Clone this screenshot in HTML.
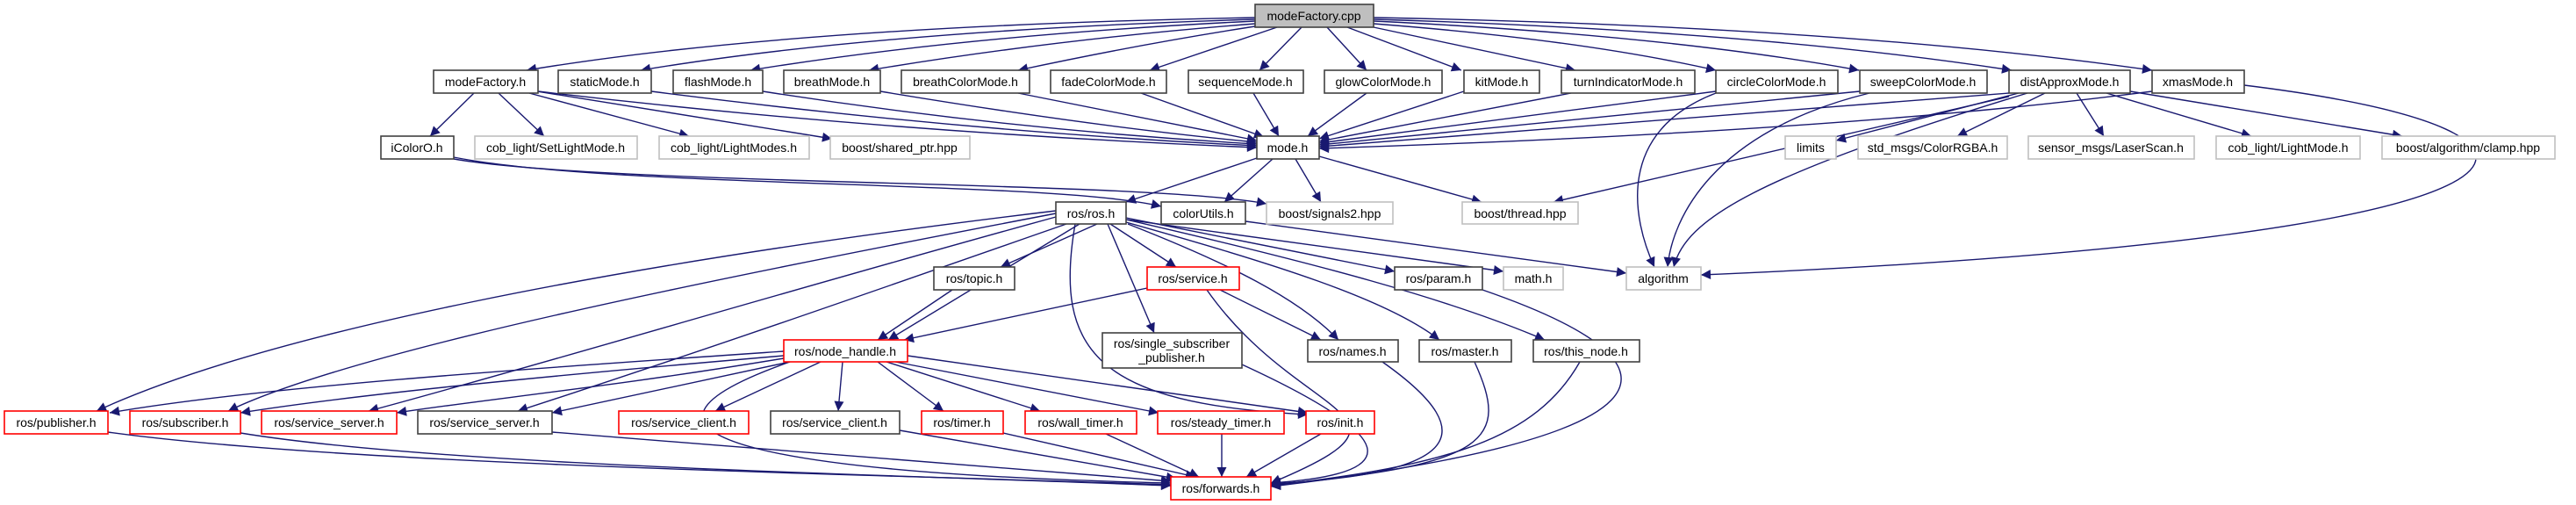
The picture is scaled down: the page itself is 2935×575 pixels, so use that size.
<!DOCTYPE html>
<html><head><meta charset="utf-8"><style>
html,body{margin:0;padding:0;background:#fff;width:2935px;height:575px;overflow:hidden}
text{font-family:"Liberation Sans",sans-serif;font-size:14px;text-anchor:middle;fill:#000}
.e{fill:none;stroke:#191970;stroke-width:1.4;marker-end:url(#a)}
.b{fill:#fff;stroke:#404040;stroke-width:1.6}
.g{fill:#fff;stroke:#bfbfbf;stroke-width:1.6}
.r{fill:#fff;stroke:#ff0000;stroke-width:1.6}
</style></head><body>
<svg width="2935" height="575" viewBox="0 0 2935 575" xmlns="http://www.w3.org/2000/svg">
<defs><marker id="a" viewBox="0 0 10 10" refX="10" refY="5" markerUnits="userSpaceOnUse" markerWidth="13" markerHeight="11" orient="auto"><path d="M0 0L10 5L0 10z" fill="#191970"/></marker></defs>
<!-- edges -->
<g>
<path class="e" d="M1430 20 Q900 30 600 80"/>
<path class="e" d="M1430 22 Q1000 35 730 80"/>
<path class="e" d="M1430 24 Q1100 40 855 80"/>
<path class="e" d="M1430 27 Q1200 45 990 80"/>
<path class="e" d="M1430 30 Q1300 50 1160 80"/>
<path class="e" d="M1455 31 L1310 80"/>
<path class="e" d="M1483 31 L1435 80"/>
<path class="e" d="M1512 31 L1557 80"/>
<path class="e" d="M1535 31 L1665 80"/>
<path class="e" d="M1565 31 L1795 80"/>
<path class="e" d="M1565 27 Q1800 45 1955 80"/>
<path class="e" d="M1565 24 Q1900 40 2118 80"/>
<path class="e" d="M1565 22 Q2000 35 2292 80"/>
<path class="e" d="M1565 20 Q2100 30 2452 80"/>
<path class="e" d="M613 104 Q1000 150 1432 168"/>
<path class="e" d="M742 104 Q1100 150 1432 166"/>
<path class="e" d="M869 104 Q1150 148 1432 164"/>
<path class="e" d="M1003 104 Q1250 145 1432 162"/>
<path class="e" d="M1160 106 L1432 160"/>
<path class="e" d="M1300 106 L1440 156"/>
<path class="e" d="M1428 106 L1457 155"/>
<path class="e" d="M1557 106 L1490 155"/>
<path class="e" d="M1668 104 L1503 158"/>
<path class="e" d="M1790 106 L1503 161"/>
<path class="e" d="M1955 104 L1503 163"/>
<path class="e" d="M2119 104 L1503 165"/>
<path class="e" d="M2289 106 L1503 167"/>
<path class="e" d="M2452 104 Q2100 150 1503 169"/>
<path class="e" d="M540 106 L490 155"/>
<path class="e" d="M568 106 L620 155"/>
<path class="e" d="M603 106 L785 155"/>
<path class="e" d="M612 104 L948 158"/>
<path class="e" d="M517 179 C700 215 1200 205 1323 235"/>
<path class="e" d="M517 181 C700 212 1300 205 1443 232"/>
<path class="e" d="M1432 180 L1283 230"/>
<path class="e" d="M1450 181 L1395 230"/>
<path class="e" d="M1476 181 L1505 230"/>
<path class="e" d="M1503 178 L1688 230"/>
<path class="e" d="M2289 110 L1770 230"/>
<path class="e" d="M1955 106 C1840 150 1860 250 1885 304"/>
<path class="e" d="M2130 106 C1950 150 1905 250 1900 304"/>
<path class="e" d="M2310 106 C2000 200 1920 250 1907 304"/>
<path class="e" d="M2300 106 L2092 160"/>
<path class="e" d="M2330 106 L2230 155"/>
<path class="e" d="M2366 106 L2397 155"/>
<path class="e" d="M2400 106 L2565 155"/>
<path class="e" d="M2427 104 L2737 155"/>
<path class="e" d="M2557 97 C2990 150 2960 270 1938 313"/>
<path class="e" d="M1419 252 L1853 311"/>
<path class="e" d="M1283 250 L1713 309"/>
<path class="e" d="M1283 248 L1589 309"/>
<path class="e" d="M1250 255 L1140 304"/>
<path class="e" d="M1265 255 L1340 304"/>
<path class="e" d="M1230 255 L1012 387"/>
<path class="e" d="M1085 330 L1000 387"/>
<path class="e" d="M1307 328 L1030 387"/>
<path class="e" d="M1262 255 L1315 379"/>
<path class="e" d="M1285 255 C1400 300 1480 340 1525 387"/>
<path class="e" d="M1390 330 L1505 387"/>
<path class="e" d="M1283 253 C1450 300 1580 340 1640 387"/>
<path class="e" d="M1283 250 C1500 300 1650 340 1760 387"/>
<path class="e" d="M1203 240 C700 300 300 380 110 468"/>
<path class="e" d="M1203 243 C800 320 400 400 260 468"/>
<path class="e" d="M1203 247 C900 330 600 420 420 468"/>
<path class="e" d="M1215 255 C1000 330 800 400 590 468"/>
<path class="e" d="M1225 255 C1200 400 1250 460 1490 472"/>
<path class="e" d="M1375 330 C1480 480 1640 470 1448 550"/>
<path class="e" d="M893 400 C600 420 300 440 125 470"/>
<path class="e" d="M893 405 C600 430 400 450 274 470"/>
<path class="e" d="M893 408 C700 440 550 455 452 470"/>
<path class="e" d="M900 412 L629 470"/>
<path class="e" d="M935 412 L815 468"/>
<path class="e" d="M960 412 L955 468"/>
<path class="e" d="M1000 412 L1075 468"/>
<path class="e" d="M1010 412 L1185 468"/>
<path class="e" d="M1020 412 L1320 470"/>
<path class="e" d="M1034 405 L1490 470"/>
<path class="e" d="M900 412 C650 500 900 540 1334 550"/>
<path class="e" d="M123 492 C400 530 1000 540 1334 552"/>
<path class="e" d="M274 493 C500 530 1000 540 1334 553"/>
<path class="e" d="M629 492 L1334 548"/>
<path class="e" d="M1025 490 L1340 545"/>
<path class="e" d="M1143 493 L1362 543"/>
<path class="e" d="M1260 494 L1366 543"/>
<path class="e" d="M1392 494 L1392 543"/>
<path class="e" d="M1505 494 L1420 543"/>
<path class="e" d="M1415 415 C1600 500 1600 540 1448 550"/>
<path class="e" d="M1575 412 C1700 500 1650 540 1448 551"/>
<path class="e" d="M1680 412 C1720 500 1700 530 1448 552"/>
<path class="e" d="M1800 412 C1750 500 1650 530 1448 553"/>
<path class="e" d="M1689 330 C1950 420 1900 500 1448 554"/>
</g>
<!-- nodes -->
<g>
<rect x="1430" y="5" width="135" height="26" fill="#bfbfbf" stroke="#404040" stroke-width="1.6"/><text x="1497" y="23">modeFactory.cpp</text>
<rect class="b" x="494" y="80" width="119" height="26"/><text x="553" y="98">modeFactory.h</text>
<rect class="b" x="636" y="80" width="106" height="26"/><text x="689" y="98">staticMode.h</text>
<rect class="b" x="767" y="80" width="102" height="26"/><text x="818" y="98">flashMode.h</text>
<rect class="b" x="893" y="80" width="110" height="26"/><text x="948" y="98">breathMode.h</text>
<rect class="b" x="1027" y="80" width="146" height="26"/><text x="1100" y="98">breathColorMode.h</text>
<rect class="b" x="1197" y="80" width="132" height="26"/><text x="1263" y="98">fadeColorMode.h</text>
<rect class="b" x="1354" y="80" width="131" height="26"/><text x="1419" y="98">sequenceMode.h</text>
<rect class="b" x="1509" y="80" width="134" height="26"/><text x="1576" y="98">glowColorMode.h</text>
<rect class="b" x="1668" y="80" width="86" height="26"/><text x="1711" y="98">kitMode.h</text>
<rect class="b" x="1779" y="80" width="152" height="26"/><text x="1855" y="98">turnIndicatorMode.h</text>
<rect class="b" x="1955" y="80" width="139" height="26"/><text x="2024" y="98">circleColorMode.h</text>
<rect class="b" x="2119" y="80" width="145" height="26"/><text x="2191" y="98">sweepColorMode.h</text>
<rect class="b" x="2289" y="80" width="138" height="26"/><text x="2358" y="98">distApproxMode.h</text>
<rect class="b" x="2452" y="80" width="105" height="26"/><text x="2504" y="98">xmasMode.h</text>

<rect class="b" x="434" y="155" width="83" height="26"/><text x="475" y="173">iColorO.h</text>
<rect class="g" x="541" y="155" width="185" height="26"/><text x="633" y="173">cob_light/SetLightMode.h</text>
<rect class="g" x="751" y="155" width="171" height="26"/><text x="836" y="173">cob_light/LightModes.h</text>
<rect class="g" x="946" y="155" width="159" height="26"/><text x="1025" y="173">boost/shared_ptr.hpp</text>
<rect class="b" x="1432" y="155" width="71" height="26"/><text x="1467" y="173">mode.h</text>
<rect class="g" x="2034" y="155" width="58" height="26"/><text x="2063" y="173">limits</text>
<rect class="g" x="2117" y="155" width="170" height="26"/><text x="2202" y="173">std_msgs/ColorRGBA.h</text>
<rect class="g" x="2311" y="155" width="189" height="26"/><text x="2405" y="173">sensor_msgs/LaserScan.h</text>
<rect class="g" x="2525" y="155" width="164" height="26"/><text x="2607" y="173">cob_light/LightMode.h</text>
<rect class="g" x="2714" y="155" width="197" height="26"/><text x="2812" y="173">boost/algorithm/clamp.hpp</text>

<rect class="b" x="1203" y="230" width="80" height="25"/><text x="1243" y="248">ros/ros.h</text>
<rect class="b" x="1323" y="230" width="96" height="25"/><text x="1371" y="248">colorUtils.h</text>
<rect class="g" x="1443" y="230" width="144" height="25"/><text x="1515" y="248">boost/signals2.hpp</text>
<rect class="g" x="1666" y="230" width="132" height="25"/><text x="1732" y="248">boost/thread.hpp</text>

<rect class="b" x="1064" y="304" width="92" height="26"/><text x="1110" y="322">ros/topic.h</text>
<rect class="r" x="1307" y="304" width="105" height="26"/><text x="1359" y="322">ros/service.h</text>
<rect class="b" x="1589" y="304" width="100" height="26"/><text x="1639" y="322">ros/param.h</text>
<rect class="g" x="1713" y="304" width="68" height="26"/><text x="1747" y="322">math.h</text>
<rect class="g" x="1853" y="304" width="85" height="26"/><text x="1895" y="322">algorithm</text>

<rect class="r" x="893" y="387" width="141" height="25"/><text x="963" y="405">ros/node_handle.h</text>
<rect class="b" x="1256" y="379" width="159" height="40"/><text x="1335" y="396">ros/single_subscriber</text><text x="1335" y="412">_publisher.h</text>
<rect class="b" x="1490" y="387" width="103" height="25"/><text x="1541" y="405">ros/names.h</text>
<rect class="b" x="1617" y="387" width="105" height="25"/><text x="1669" y="405">ros/master.h</text>
<rect class="b" x="1747" y="387" width="121" height="25"/><text x="1807" y="405">ros/this_node.h</text>

<rect class="r" x="5" y="468" width="118" height="26"/><text x="64" y="486">ros/publisher.h</text>
<rect class="r" x="148" y="468" width="126" height="26"/><text x="211" y="486">ros/subscriber.h</text>
<rect class="r" x="298" y="468" width="154" height="26"/><text x="375" y="486">ros/service_server.h</text>
<rect class="b" x="476" y="468" width="153" height="26"/><text x="552" y="486">ros/service_server.h</text>
<rect class="r" x="705" y="468" width="148" height="26"/><text x="779" y="486">ros/service_client.h</text>
<rect class="b" x="878" y="468" width="147" height="26"/><text x="951" y="486">ros/service_client.h</text>
<rect class="r" x="1050" y="468" width="93" height="26"/><text x="1096" y="486">ros/timer.h</text>
<rect class="r" x="1168" y="468" width="127" height="26"/><text x="1231" y="486">ros/wall_timer.h</text>
<rect class="r" x="1319" y="468" width="144" height="26"/><text x="1391" y="486">ros/steady_timer.h</text>
<rect class="r" x="1488" y="468" width="78" height="26"/><text x="1527" y="486">ros/init.h</text>
<rect class="r" x="1334" y="543" width="114" height="26"/><text x="1391" y="561">ros/forwards.h</text>
</g>
</svg>
</body></html>
